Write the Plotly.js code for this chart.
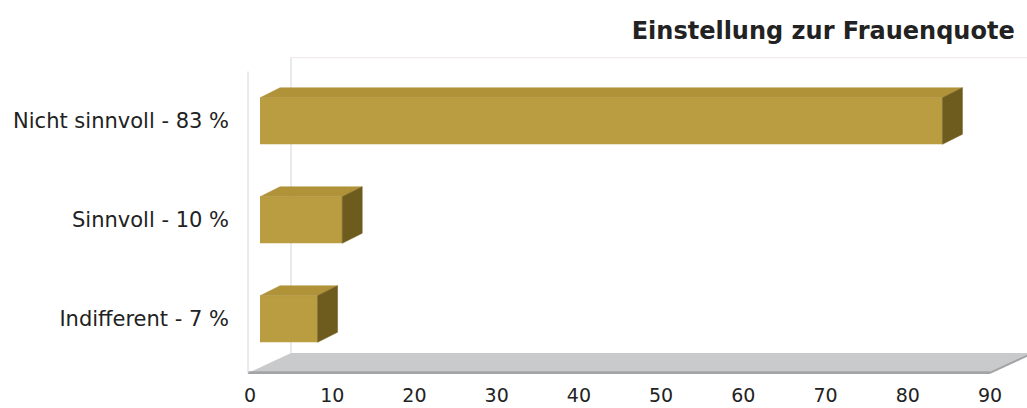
<!DOCTYPE html>
<html>
<head>
<meta charset="utf-8">
<script src="https://cdn.plot.ly/plotly-3.0.1.min.js"></script>
<style>html,body{margin:0;padding:0;background:#fff;}#chart{width:1027px;height:408px;}</style>
</head>
<body>
<div id="chart"></div>
<script>
// Data (bottom to top)
const categories = ["Indifferent - 7 %", "Sinnvoll - 10 %", "Nicht sinnvoll - 83 %"];
const values = [7, 10, 83];
const xTicks = [0, 10, 20, 30, 40, 50, 60, 70, 80, 90];
const titleText = "Einstellung zur Frauenquote";

// 3D look parameters (axis units)
const OFFSET = 1.216;   // front face offset from origin
const DEPTH_X = 2.432;  // depth along x
const DEPTH_Y = 0.101;  // depth along y
const BAR_H = 0.47;

const pos = categories.map((c, i) => i);

const topX = [], topY = [], sideX = [], sideY = [];
values.forEach((v, i) => {
  const y = pos[i], x0 = OFFSET, x1 = OFFSET + v;
  const yt = y + BAR_H / 2, yb = y - BAR_H / 2;
  topX.push(x0, x1, x1 + DEPTH_X, x0 + DEPTH_X, x0, null);
  topY.push(yt, yt, yt + DEPTH_Y, yt + DEPTH_Y, yt, null);
  sideX.push(x1, x1 + DEPTH_X, x1 + DEPTH_X, x1, x1, null);
  sideY.push(yb, yb + DEPTH_Y, yt + DEPTH_Y, yt, yb, null);
});

const traces = [
  {
    type: 'bar', orientation: 'h',
    x: values, y: pos, base: values.map(() => OFFSET),
    width: BAR_H,
    marker: {color: '#BA9D41', line: {width: 0}},
    hoverinfo: 'skip', showlegend: false
  },
  {
    type: 'scatter', mode: 'lines', x: topX, y: topY,
    fill: 'toself', fillcolor: '#B09239',
    line: {color: '#B09239', width: 0.5},
    hoverinfo: 'skip', showlegend: false
  },
  {
    type: 'scatter', mode: 'lines', x: sideX, y: sideY,
    fill: 'toself', fillcolor: '#6E5B1E',
    line: {color: '#6E5B1E', width: 0.5},
    hoverinfo: 'skip', showlegend: false
  }
];

// frame geometry (decoration)
const FX0 = -0.243, BX0 = 4.99, FY = -0.545, BY = -0.343, XR = 90, TOPB = 2.64, TOPF = 2.50;

const layout = {
  width: 1027, height: 408,
  margin: {l: 232, r: 0, t: 45, b: 34},
  paper_bgcolor: '#ffffff', plot_bgcolor: '#ffffff',
  font: {family: 'DejaVu Sans, sans-serif', color: '#222222'},
  title: {
    text: '<b>' + titleText + '</b>',
    font: {family: 'DejaVu Sans, sans-serif', size: 24, color: '#222222'},
    xref: 'container', x: 0.988, xanchor: 'right',
    yref: 'container', y: 0.926, yanchor: 'middle'
  },
  xaxis: {
    range: [-2.19, 94.5], tickvals: xTicks, ticktext: xTicks.map(String),
    showgrid: false, zeroline: false, showline: false, ticks: '',
    tickfont: {size: 19, color: '#222222'}, ticklabelstandoff: 8,
    fixedrange: true
  },
  yaxis: {
    range: [-0.5556, 2.7677], tickvals: pos, ticktext: categories,
    showgrid: false, zeroline: false, showline: false, ticks: '',
    tickfont: {size: 21, color: '#222222'}, ticklabelstandoff: 2,
    fixedrange: true
  },
  shapes: [
    // floor
    {type: 'path', xref: 'x', yref: 'y', layer: 'below',
     path: `M ${FX0} ${FY} L ${XR} ${FY} L ${XR + (BX0 - FX0)} ${BY} L ${BX0} ${BY} Z`,
     fillcolor: '#C9CACC', line: {width: 0}},
    {type: 'line', xref: 'x', yref: 'y', layer: 'below',
     x0: FX0, y0: FY, x1: XR, y1: FY, line: {color: '#A2A4A7', width: 3.5}},
    {type: 'line', xref: 'x', yref: 'y', layer: 'below',
     x0: XR, y0: FY, x1: XR + (BX0 - FX0), y1: BY, line: {color: '#A2A4A7', width: 2}},
    // walls
    {type: 'line', xref: 'x', yref: 'y', layer: 'below',
     x0: BX0, y0: BY, x1: BX0, y1: TOPB, line: {color: '#D9DBE0', width: 1.2}},
    {type: 'line', xref: 'x', yref: 'y', layer: 'below',
     x0: FX0, y0: FY, x1: FX0, y1: TOPF, line: {color: '#D9DBE0', width: 1.2}},
    {type: 'line', xref: 'x', yref: 'y', layer: 'below',
     x0: BX0, y0: TOPB, x1: 100, y1: TOPB, line: {color: '#EEE6E6', width: 1}}
  ]
};

Plotly.newPlot('chart', traces, layout, {displayModeBar: false, staticPlot: true});
</script>
</body>
</html>
